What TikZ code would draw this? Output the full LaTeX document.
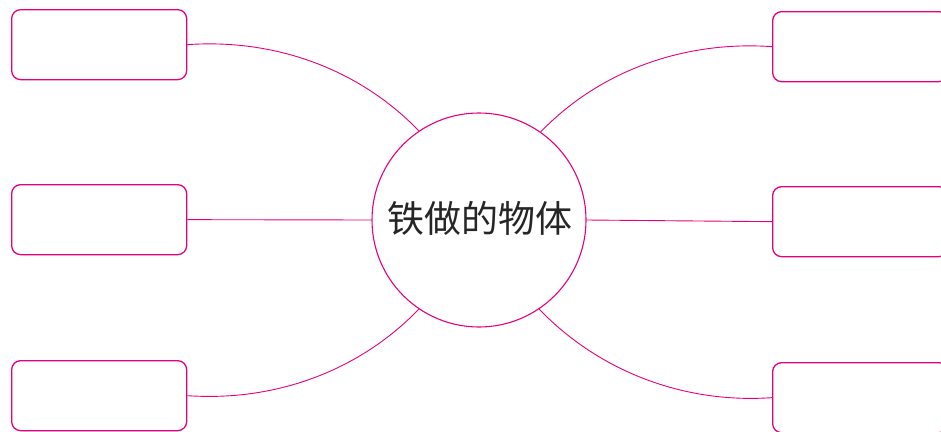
\documentclass[tikz,border=0pt]{standalone}
\usepackage{fontspec}
\newfontfamily\cjk{Noto Sans CJK SC}
\definecolor{mag}{HTML}{E6007E}
\begin{document}
\begin{tikzpicture}[x=1pt,y=-1pt,
  boxnode/.style={draw=mag,line width=1.3pt,rounded corners=9pt,minimum width=175pt,minimum height=70pt,inner sep=0pt,anchor=north west},
  link/.style={draw=mag,line width=0.9pt}]
\useasboundingbox (0,0) rectangle (941,431);
\node[draw=mag,line width=1.1pt,circle,minimum size=214pt,inner sep=0pt] (c) at (479,220) {};
\node[font=\cjk\fontsize{37}{37}\selectfont,text=black!85] (t) at (480,218) {铁做的物体};
\node[boxnode] (l1) at (11,9) {};
\node[boxnode] (l2) at (11,184) {};
\node[boxnode] (l3) at (11,360) {};
\node[boxnode] (r1) at (772,11) {};
\node[boxnode] (r2) at (772,186) {};
\node[boxnode] (r3) at (772,362) {};
\draw[link] (l1.east) to[out=4,in=134,looseness=0.9] (c.124);
\draw[link] (l2.east) -- (c.180);
\draw[link] (l3.east) to[out=-4,in=-134,looseness=0.9] (c.-124);
\draw[link] (r1.west) to[out=176,in=46,looseness=0.9] (c.55);
\draw[link] (r2.west) -- (c.0);
\draw[link] (r3.west) to[out=184,in=-46,looseness=0.9] (c.-56);
\end{tikzpicture}
\end{document}
